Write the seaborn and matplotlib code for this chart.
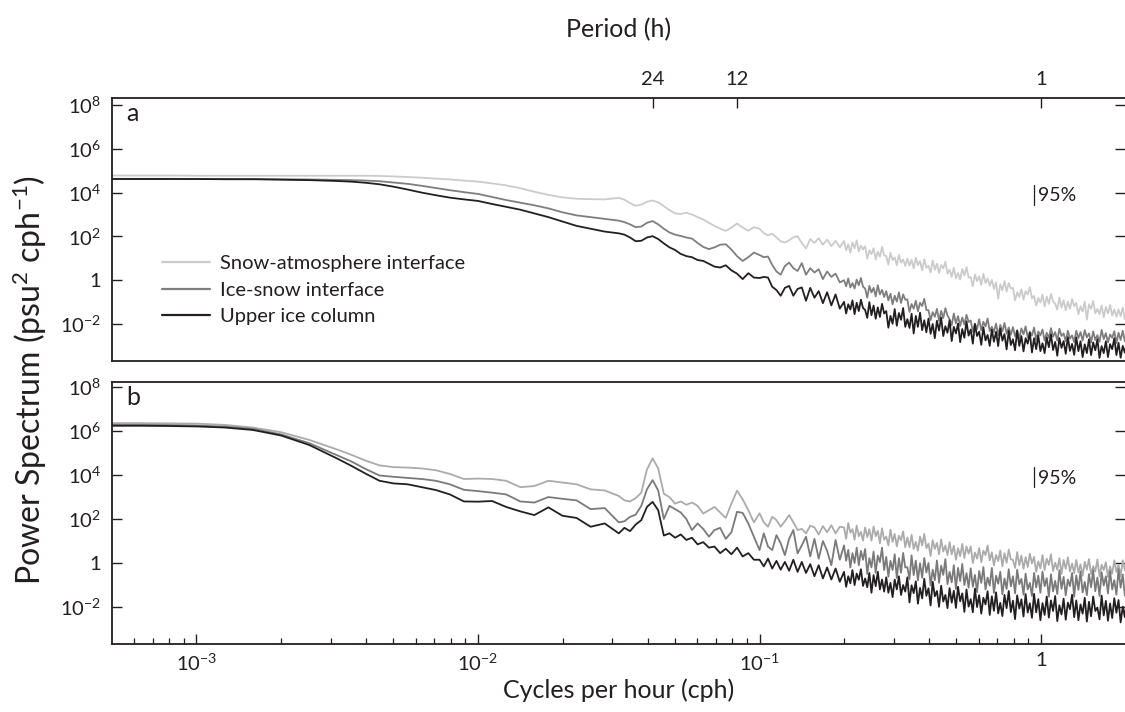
import numpy as np
import pandas as pd
import matplotlib
matplotlib.use("Agg")
import matplotlib.pyplot as plt
import seaborn as sns
from matplotlib.lines import Line2D
from matplotlib.ticker import NullLocator, LogLocator

sns.set_theme(style="ticks")
FONT = "Lato"
plt.rcParams["font.family"] = [FONT, "DejaVu Sans"]
plt.rcParams["mathtext.fontset"] = "custom"
plt.rcParams["mathtext.rm"] = FONT
plt.rcParams["mathtext.it"] = FONT + ":italic"
plt.rcParams["mathtext.bf"] = FONT + ":bold"

# ---------------- data: log10 frequency (cph) and log10 power ----------------
log_cph = [
    -3.30, -3.20, -3.10, -3.00, -2.90, -2.80, -2.70, -2.60, -2.50,
    -2.45, -2.40, -2.35, -2.30, -2.25, -2.20, -2.15, -2.10, -2.05, -2.00,
    -1.95, -1.90, -1.85, -1.80, -1.75, -1.70, -1.65, -1.60, -1.55,
    -1.50, -1.48, -1.46, -1.44, -1.42, -1.40, -1.38, -1.36, -1.34, -1.32,
    -1.30, -1.28, -1.26, -1.24, -1.22, -1.20, -1.18, -1.16, -1.14, -1.12,
    -1.10, -1.08, -1.06, -1.04, -1.02,
    -1.000, -0.985, -0.970, -0.955, -0.940, -0.925, -0.910, -0.895, -0.880, -0.865,
    -0.850, -0.835, -0.820, -0.805, -0.790, -0.775, -0.760, -0.745, -0.730, -0.715,
    -0.7000, -0.6925, -0.6850, -0.6775, -0.6700, -0.6625, -0.6550, -0.6475, -0.6400, -0.6325,
    -0.6250, -0.6175, -0.6100, -0.6025, -0.5950, -0.5875, -0.5800, -0.5725, -0.5650, -0.5575,
    -0.5500, -0.5425, -0.5350, -0.5275, -0.5200, -0.5125, -0.5050, -0.4975, -0.4900, -0.4825,
    -0.4750, -0.4675, -0.4600, -0.4525, -0.4450, -0.4375, -0.4300, -0.4225, -0.4150, -0.4075,
    -0.4000, -0.3925, -0.3850, -0.3775, -0.3700, -0.3625, -0.3550, -0.3475, -0.3400, -0.3325,
    -0.3250, -0.3175, -0.3100, -0.3025, -0.2950, -0.2875, -0.2800, -0.2725, -0.2650, -0.2575,
    -0.2500, -0.2425, -0.2350, -0.2275, -0.2200, -0.2125, -0.2050, -0.1975, -0.1900, -0.1825,
    -0.1750, -0.1675, -0.1600, -0.1525, -0.1450, -0.1375, -0.1300, -0.1225, -0.1150, -0.1075,
    -0.1000, -0.0925, -0.0850, -0.0775, -0.0700, -0.0625, -0.0550, -0.0475, -0.0400, -0.0325,
    -0.0250, -0.0175, -0.0100, -0.0025, 0.0050, 0.0125, 0.0200, 0.0275, 0.0350, 0.0425,
    0.0500, 0.0575, 0.0650, 0.0725, 0.0800, 0.0875, 0.0950, 0.1025, 0.1100, 0.1175,
    0.1250, 0.1325, 0.1400, 0.1475, 0.1550, 0.1625, 0.1700, 0.1775, 0.1850, 0.1925,
    0.2000, 0.2075, 0.2150, 0.2225, 0.2300, 0.2375, 0.2450, 0.2525, 0.2600, 0.2675,
    0.2750, 0.2825, 0.2900, 0.2975, 0.3050,
]

# ---- panel a ----
a_snow_atm = [
    4.78, 4.78, 4.78, 4.77, 4.77, 4.77, 4.77, 4.77, 4.77,
    4.77, 4.77, 4.76, 4.74, 4.71, 4.68, 4.64, 4.60, 4.55, 4.50,
    4.42, 4.33, 4.20, 4.04, 3.90, 3.78, 3.72, 3.70, 3.69,
    3.76, 3.68, 3.52, 3.40, 3.45, 3.58, 3.64, 3.55, 3.38, 3.20,
    3.05, 3.02, 3.08, 3.00, 2.88, 2.77, 2.62, 2.48, 2.35, 2.25,
    2.40, 2.59, 2.40, 2.26, 2.42,
    2.35, 2.15, 2.05, 2.12, 1.95, 1.78, 1.72, 1.82, 1.96, 2.01,
    1.70, 1.45, 1.88, 1.70, 1.92, 1.62, 1.85, 1.55, 1.80, 1.50,
    1.79, 1.37, 1.64, 1.25, 1.73, 1.46, 1.82, 1.31, 1.58, 1.40,
    1.55, 0.98, 1.37, 1.19, 1.46, 0.95, 1.31, 1.07, 1.52, 1.13,
    1.10, 0.71, 1.25, 0.92, 1.04, 0.68, 1.16, 0.80, 0.95, 0.65,
    0.99, 0.66, 0.93, 0.54, 1.02, 0.69, 0.87, 0.45, 0.96, 0.57,
    0.66, 0.36, 0.90, 0.48, 0.75, 0.33, 0.69, 0.54, 0.84, 0.30,
    0.48, 0.15, 0.57, 0.09, 0.33, 0.03, 0.51, 0.21, 0.60, 0.12,
    0.14, -0.28, 0.26, -0.04, 0.17, -0.22, 0.29, -0.13, 0.08, -0.25,
    0.02, -0.40, -0.10, -0.85, -0.19, -0.46, -0.04, -0.52, -0.13, -0.37,
    -0.35, -0.92, -0.56, -0.77, -0.41, -0.89, -0.50, -0.65, -0.32, -0.83,
    -0.72, -1.17, -0.81, -1.02, -0.66, -1.20, -0.75, -1.08, -0.63, -0.96,
    -1.07, -1.34, -0.80, -1.25, -0.92, -1.37, -0.98, -1.31, -0.86, -1.19,
    -1.04, -1.55, -1.19, -1.43, -0.98, -1.80, -1.10, -1.31, -0.95, -1.52,
    -1.31, -1.55, -1.16, -1.70, -1.22, -1.52, -1.13, -1.61, -1.34, -1.67,
    -1.34, -1.64, -1.25, -1.79, -1.43,
]
a_ice_snow = [
    4.63, 4.63, 4.63, 4.62, 4.62, 4.62, 4.61, 4.60, 4.58,
    4.57, 4.55, 4.52, 4.46, 4.40, 4.31, 4.21, 4.11, 4.02, 3.94,
    3.80, 3.66, 3.54, 3.42, 3.28, 3.10, 2.96, 2.88, 2.80,
    2.72, 2.65, 2.55, 2.42, 2.45, 2.62, 2.70, 2.55, 2.35, 2.18,
    2.08, 2.02, 1.95, 1.90, 1.70, 1.52, 1.42, 1.50, 1.62, 1.64,
    1.40, 1.10, 0.88, 1.05, 1.26,
    1.15, 1.05, 1.08, 0.70, 0.40, 0.25, 0.65, 0.80, 0.55, 0.42,
    0.78, 0.25, 0.55, 0.35, 0.50, 0.05, 0.40, 0.15, 0.30, -0.10,
    0.00, -0.28, 0.08, -0.33, -0.13, -0.38, 0.03, -0.23, 0.10, -0.30,
    -0.38, -0.80, -0.26, -0.56, -0.35, -0.74, -0.23, -0.65, -0.44, -0.77,
    -0.50, -0.92, -0.62, -1.10, -0.71, -0.98, -0.56, -1.04, -0.65, -0.89,
    -0.88, -1.45, -1.09, -1.30, -0.94, -1.42, -1.03, -1.18, -0.85, -1.36,
    -1.37, -1.82, -1.46, -1.67, -1.31, -1.85, -1.40, -1.73, -1.28, -1.61,
    -1.79, -2.06, -1.52, -1.97, -1.64, -2.09, -1.70, -2.03, -1.58, -1.91,
    -1.84, -2.35, -1.99, -2.23, -1.78, -2.29, -1.90, -2.11, -1.75, -2.32,
    -2.13, -2.37, -1.98, -2.52, -2.04, -2.34, -1.95, -2.43, -2.16, -2.49,
    -2.14, -2.56, -2.29, -2.68, -2.20, -2.47, -2.11, -2.62, -2.35, -2.53,
    -2.16, -2.73, -2.34, -2.52, -2.25, -2.76, -2.40, -2.64, -2.19, -2.58,
    -2.37, -2.76, -2.22, -2.55, -2.43, -2.79, -2.31, -2.67, -2.52, -2.82,
    -2.31, -2.64, -2.37, -2.76, -2.28, -2.61, -2.43, -2.85, -2.34, -2.73,
    -2.51, -2.81, -2.27, -2.69, -2.42, -2.84, -2.48, -2.63, -2.33, -2.87,
    -2.40, -2.73, -2.31, -2.79, -2.55,
]
a_upper_ice = [
    4.62, 4.62, 4.62, 4.62, 4.61, 4.61, 4.59, 4.57, 4.53,
    4.50, 4.45, 4.38, 4.27, 4.14, 4.00, 3.88, 3.77, 3.69, 3.62,
    3.48, 3.35, 3.22, 3.05, 2.88, 2.68, 2.48, 2.35, 2.22,
    2.14, 2.08, 1.95, 1.78, 1.80, 1.95, 2.01, 1.88, 1.68, 1.50,
    1.38, 1.20, 1.10, 1.05, 0.92, 0.88, 0.75, 0.62, 0.58, 0.68,
    0.45, 0.30, 0.05, 0.32, 0.12,
    0.10, 0.15, 0.12, -0.30, -0.45, -0.71, -0.35, -0.26, -0.71, -0.40,
    -0.33, -0.94, -0.35, -0.80, -0.50, -1.05, -0.55, -1.15, -0.65, -1.30,
    -0.99, -1.52, -1.10, -1.34, -0.92, -1.55, -1.03, -1.41, -0.89, -1.27,
    -1.36, -1.72, -1.00, -1.60, -1.16, -1.76, -1.24, -1.68, -1.08, -1.52,
    -1.41, -2.17, -1.63, -1.99, -1.32, -2.08, -1.50, -1.81, -1.27, -2.13,
    -1.78, -2.18, -1.53, -2.43, -1.63, -2.13, -1.48, -2.28, -1.83, -2.38,
    -1.75, -2.45, -2.00, -2.65, -1.85, -2.30, -1.70, -2.55, -2.10, -2.40,
    -1.83, -2.78, -2.13, -2.43, -1.98, -2.83, -2.23, -2.63, -1.88, -2.53,
    -2.25, -2.90, -2.00, -2.55, -2.35, -2.95, -2.15, -2.75, -2.50, -3.00,
    -2.26, -2.81, -2.36, -3.01, -2.21, -2.76, -2.46, -3.16, -2.31, -2.96,
    -2.70, -3.20, -2.30, -3.00, -2.55, -3.25, -2.65, -2.90, -2.40, -3.30,
    -2.65, -3.15, -2.52, -3.24, -2.88, -3.33, -2.61, -3.06, -2.47, -3.19,
    -2.82, -3.45, -2.64, -3.09, -2.78, -3.36, -2.60, -3.23, -2.91, -3.41,
    -2.61, -3.24, -2.79, -3.51, -2.93, -3.33, -2.70, -3.42, -2.84, -3.20,
    -2.70, -3.55, -3.01, -3.33, -2.79, -3.51, -2.92, -3.15, -2.65, -3.42,
    -2.86, -3.54, -3.00, -3.31, -2.77,
]

# ---- panel b ----
b_snow_atm = [
    6.36, 6.36, 6.35, 6.34, 6.28, 6.16, 5.95, 5.60, 5.16,
    4.92, 4.66, 4.44, 4.36, 4.34, 4.30, 4.22, 4.05, 3.82, 3.84,
    3.82, 3.74, 3.45, 3.50, 3.74, 3.66, 3.58, 3.35, 3.30,
    3.05, 2.85, 2.80, 2.95, 3.20, 4.25, 4.76, 4.30, 3.15, 3.00,
    2.70, 2.80, 2.65, 2.75, 2.60, 2.25, 2.40, 2.55, 2.30, 2.05,
    2.70, 3.29, 2.90, 2.40, 1.85,
    2.26, 1.85, 1.65, 2.10, 1.95, 1.65, 1.90, 2.18, 1.85, 1.50,
    1.55, 1.35, 1.70, 1.62, 1.30, 1.68, 1.40, 1.72, 1.35, 1.65,
    1.62, 1.10, 1.82, 1.38, 1.54, 1.06, 1.70, 1.22, 1.42, 1.02,
    1.62, 1.18, 1.54, 1.02, 1.66, 1.22, 1.46, 0.90, 1.58, 1.06,
    1.20, 0.80, 1.52, 0.96, 1.32, 0.76, 1.24, 1.04, 1.44, 0.72,
    1.16, 0.72, 1.28, 0.64, 0.96, 0.56, 1.20, 0.80, 1.32, 0.68,
    0.88, 0.32, 1.04, 0.64, 0.92, 0.40, 1.08, 0.52, 0.80, 0.36,
    0.95, 0.39, 0.79, 0.15, 0.67, 0.31, 0.87, 0.23, 0.75, 0.43,
    0.76, 0.00, 0.48, 0.20, 0.68, 0.04, 0.56, 0.36, 0.80, 0.12,
    0.49, -0.11, 0.37, 0.09, 0.57, -0.15, 0.45, 0.01, 0.61, 0.17,
    0.14, -0.22, 0.50, -0.10, 0.34, -0.26, 0.26, -0.18, 0.42, -0.02,
    0.28, -0.40, 0.08, -0.24, 0.36, -0.32, 0.20, -0.08, 0.40, -0.36,
    0.02, -0.30, 0.22, -0.50, 0.14, -0.26, 0.26, -0.38, -0.02, -0.46,
    0.14, -0.42, -0.06, -0.58, 0.06, -0.30, 0.18, -0.50, -0.14, -0.38,
    0.16, -0.60, -0.08, -0.32, 0.04, -0.64, -0.16, -0.48, 0.12, -0.40,
    -0.08, -0.60, 0.12, -0.32, -0.16,
]
b_ice_snow = [
    6.28, 6.28, 6.27, 6.25, 6.20, 6.10, 5.85, 5.45, 4.90,
    4.62, 4.28, 3.98, 3.92, 3.87, 3.82, 3.74, 3.58, 3.33, 3.27,
    3.20, 3.12, 2.80, 2.75, 3.00, 2.92, 2.85, 2.45, 2.50,
    1.85, 1.90, 2.10, 2.20, 2.60, 3.35, 3.77, 3.30, 2.00, 2.60,
    2.45, 2.30, 2.00, 1.50, 1.80, 1.55, 1.20, 1.50, 1.60, 1.10,
    1.40, 2.33, 2.28, 1.80, 1.20,
    0.59, 1.35, 0.75, 0.59, 1.27, 0.90, 0.36, 1.10, 1.50, 0.44,
    0.80, 1.20, 0.30, 1.10, 0.20, 1.00, 0.55, -0.10, 1.05, 0.15,
    0.80, 0.10, 0.60, -0.20, 0.45, 0.00, 0.70, -0.10, 0.55, 0.15,
    0.64, -0.50, 0.22, -0.20, 0.52, -0.44, 0.34, 0.04, 0.70, -0.32,
    0.28, -0.62, 0.10, -0.32, 0.40, -0.68, 0.22, -0.44, 0.46, -0.20,
    -0.19, -0.73, 0.35, -0.55, 0.11, -0.79, -0.01, -0.67, 0.23, -0.43,
    0.00, -1.02, -0.30, -0.78, 0.12, -0.90, -0.12, -0.54, 0.18, -0.96,
    -0.40, -0.88, -0.10, -1.18, -0.22, -0.82, -0.04, -1.00, -0.46, -1.12,
    -0.24, -1.08, -0.54, -1.32, -0.36, -0.90, -0.18, -1.20, -0.66, -1.02,
    -0.22, -1.36, -0.58, -0.94, -0.40, -1.42, -0.70, -1.18, -0.28, -1.06,
    -0.60, -1.38, -0.30, -0.96, -0.72, -1.44, -0.48, -1.20, -0.90, -1.50,
    -0.45, -1.11, -0.57, -1.35, -0.39, -1.05, -0.69, -1.53, -0.51, -1.29,
    -0.81, -1.41, -0.33, -1.17, -0.63, -1.47, -0.75, -1.05, -0.45, -1.53,
    -0.56, -1.22, -0.38, -1.34, -0.86, -1.46, -0.50, -1.10, -0.32, -1.28,
    -0.66, -1.50, -0.42, -1.02, -0.60, -1.38, -0.36, -1.20, -0.78, -1.44,
    -0.28, -1.12, -0.52, -1.48, -0.70,
]
b_upper_ice = [
    6.24, 6.24, 6.23, 6.21, 6.16, 6.05, 5.80, 5.37, 4.75,
    4.42, 4.07, 3.74, 3.62, 3.58, 3.45, 3.32, 3.12, 2.80, 2.79,
    2.82, 2.55, 2.35, 2.18, 2.53, 2.15, 2.05, 1.65, 1.80,
    1.35, 1.60, 1.45, 1.75, 1.95, 2.55, 2.78, 2.40, 1.25, 1.35,
    1.15, 1.30, 1.05, 1.15, 0.85, 0.95, 0.70, 0.75, 0.45, 0.65,
    0.40, 0.70, 0.30, 0.45, 0.15,
    0.15, -0.15, 0.20, -0.25, 0.10, -0.30, 0.05, -0.35, 0.15, -0.40,
    0.05, -0.45, -0.05, -0.60, -0.10, -0.70, -0.20, -0.75, -0.25, -0.85,
    -0.40, -1.08, -0.60, -0.92, -0.32, -1.00, -0.48, -0.76, -0.28, -1.04,
    -0.70, -1.10, -0.45, -1.35, -0.55, -1.05, -0.40, -1.20, -0.75, -1.30,
    -0.65, -1.35, -0.90, -1.55, -0.75, -1.20, -0.60, -1.45, -1.00, -1.30,
    -0.65, -1.79, -1.01, -1.37, -0.83, -1.85, -1.13, -1.61, -0.71, -1.49,
    -1.15, -1.93, -0.85, -1.51, -1.27, -1.99, -1.03, -1.75, -1.45, -2.05,
    -1.14, -1.80, -1.26, -2.04, -1.08, -1.74, -1.38, -2.22, -1.20, -1.98,
    -1.64, -2.24, -1.16, -2.00, -1.46, -2.30, -1.58, -1.88, -1.28, -2.36,
    -1.51, -2.17, -1.33, -2.29, -1.81, -2.41, -1.45, -2.05, -1.27, -2.23,
    -1.71, -2.55, -1.47, -2.07, -1.65, -2.43, -1.41, -2.25, -1.83, -2.49,
    -1.40, -2.24, -1.64, -2.60, -1.82, -2.36, -1.52, -2.48, -1.70, -2.18,
    -1.50, -2.64, -1.92, -2.34, -1.62, -2.58, -1.80, -2.10, -1.44, -2.46,
    -1.70, -2.60, -1.88, -2.30, -1.58, -2.66, -1.76, -2.42, -1.52, -2.18,
    -2.02, -2.56, -1.48, -2.38, -1.72, -2.62, -1.84, -2.50, -1.60, -2.26,
    -1.68, -2.70, -1.98, -2.46, -1.56,
]

series_names = ["Snow-atmosphere interface", "Ice-snow interface", "Upper ice column"]
colors_a = ["#cbcbcb", "#7e7e7e", "#231f20"]
colors_b = ["#ababab", "#7a7a7a", "#231f20"]

# 95% confidence bar (log10 values)
ci_log_cph = -0.025
ci_log_low, ci_log_high = 3.45, 4.36
ci_text_log_cph, ci_text_log_pow = -0.012, 3.86

period_ticks_h = [24, 12, 1]
ytick_exp = [-2, 0, 2, 4, 6, 8]
xtick_exp = [-3, -2, -1, 0]

for name, arr in [("a1", a_snow_atm), ("a2", a_ice_snow), ("a3", a_upper_ice),
                  ("b1", b_snow_atm), ("b2", b_ice_snow), ("b3", b_upper_ice)]:
    if len(arr) != len(log_cph):
        print("LENGTH MISMATCH", name, len(arr), len(log_cph))

# ---------------- figure ----------------
W, H = 1125, 712
fig = plt.figure(figsize=(W / 100, H / 100), dpi=100)
ax_a = fig.add_axes([112 / W, 1 - 361 / H, 1 - 112 / W, (361 - 98) / H])
ax_b = fig.add_axes([112 / W, 1 - 644 / H, 1 - 112 / W, (644 - 382) / H])

freq = 10 ** np.array(log_cph)


def make_df(vals):
    parts = []
    for name, v in zip(series_names, vals):
        parts.append(pd.DataFrame({"cph": freq, "power": 10 ** np.array(v), "series": name}))
    return pd.concat(parts, ignore_index=True)


def ylab(e):
    return "1" if e == 0 else "10$^{%d}$" % e


spine_c = "#231f20"
TICK_FS = 14.5
for ax, vals, cols, ylim in [
    (ax_a, [a_snow_atm, a_ice_snow, a_upper_ice], colors_a, (-3.69, 8.32)),
    (ax_b, [b_snow_atm, b_ice_snow, b_upper_ice], colors_b, (-3.68, 8.23)),
]:
    ax.set_xscale("log")
    ax.set_yscale("log")
    sns.lineplot(data=make_df(vals), x="cph", y="power", hue="series",
                 hue_order=series_names, palette=cols, estimator=None,
                 sort=False, linewidth=1.3, ax=ax, legend=False)
    ax.set_xlim(10 ** -3.30, 10 ** 0.298)
    ax.set_ylim(10 ** ylim[0], 10 ** ylim[1])
    ax.set_xlabel("")
    ax.set_ylabel("")
    ax.set_facecolor("white")
    for s in ["left", "top", "bottom"]:
        ax.spines[s].set_color(spine_c)
        ax.spines[s].set_linewidth(1.3)
    ax.spines["right"].set_visible(False)
    ax.set_yticks([10.0 ** e for e in ytick_exp])
    ax.set_yticklabels([ylab(e) for e in ytick_exp])
    ax.yaxis.set_minor_locator(NullLocator())
    ax.tick_params(axis="y", which="major", direction="in", left=True, right=True,
                   length=7.5, width=1.0, color=spine_c, labelsize=TICK_FS, pad=8,
                   labelcolor=spine_c)
    ax.plot([10 ** ci_log_cph] * 2, [10 ** ci_log_low, 10 ** ci_log_high],
            color=spine_c, lw=0.9)
    ax.text(10 ** ci_text_log_cph, 10 ** ci_text_log_pow, "95%", fontsize=14,
            color=spine_c, ha="left", va="center")

# bottom panel x axis
ax_b.set_xticks([10.0 ** e for e in xtick_exp])
ax_b.set_xticklabels([ylab(e) for e in xtick_exp])
ax_b.xaxis.set_minor_locator(LogLocator(base=10, subs=np.arange(2, 10)))
ax_b.tick_params(axis="x", which="major", direction="in", bottom=True, top=False,
                 length=7, width=1.0, color=spine_c, labelsize=TICK_FS, pad=6,
                 labelcolor=spine_c)
ax_b.tick_params(axis="x", which="minor", direction="in", bottom=True, top=False,
                 length=4.5, width=0.9, color=spine_c, labelbottom=False)

# top panel: period axis on top
ax_a.set_xticks([1.0 / p for p in period_ticks_h])
ax_a.set_xticklabels([str(p) for p in period_ticks_h])
ax_a.xaxis.set_minor_locator(NullLocator())
ax_a.tick_params(axis="x", which="major", direction="in", bottom=False, top=True,
                 labelbottom=False, labeltop=True, length=7, width=1.0,
                 color=spine_c, labelsize=TICK_FS, pad=7, labelcolor=spine_c)

# panel letters
ax_a.text(0.014, 0.985, "a", transform=ax_a.transAxes, fontsize=18,
          color=spine_c, ha="left", va="top")
ax_b.text(0.014, 0.985, "b", transform=ax_b.transAxes, fontsize=18,
          color=spine_c, ha="left", va="top")

# legend
handles = [Line2D([0], [0], color=c, lw=1.6) for c in colors_a]
ax_a.legend(handles, series_names, loc="upper left",
            bbox_to_anchor=((162 - 112) / 1013, 1 - (255 - 98) / 263),
            frameon=False, fontsize=14.5, handlelength=2.4, handletextpad=0.5,
            labelspacing=0.47, borderpad=0, borderaxespad=0,
            labelcolor=spine_c)

# axis labels
cx = (112 + 1125) / 2 / W
fig.text(cx, 1 - 30 / H, "Period (h)", ha="center", va="center", fontsize=18,
         color=spine_c)
fig.text(cx, 1 - 690 / H, "Cycles per hour (cph)", ha="center", va="center",
         fontsize=18, color=spine_c)
fig.text(30 / W, 1 - 380 / H, "Power Spectrum (psu$^2$ cph$^{-1}$)", ha="center",
         va="center", rotation=90, fontsize=23, color=spine_c)

fig.savefig("out.png", dpi=100, facecolor="white")
